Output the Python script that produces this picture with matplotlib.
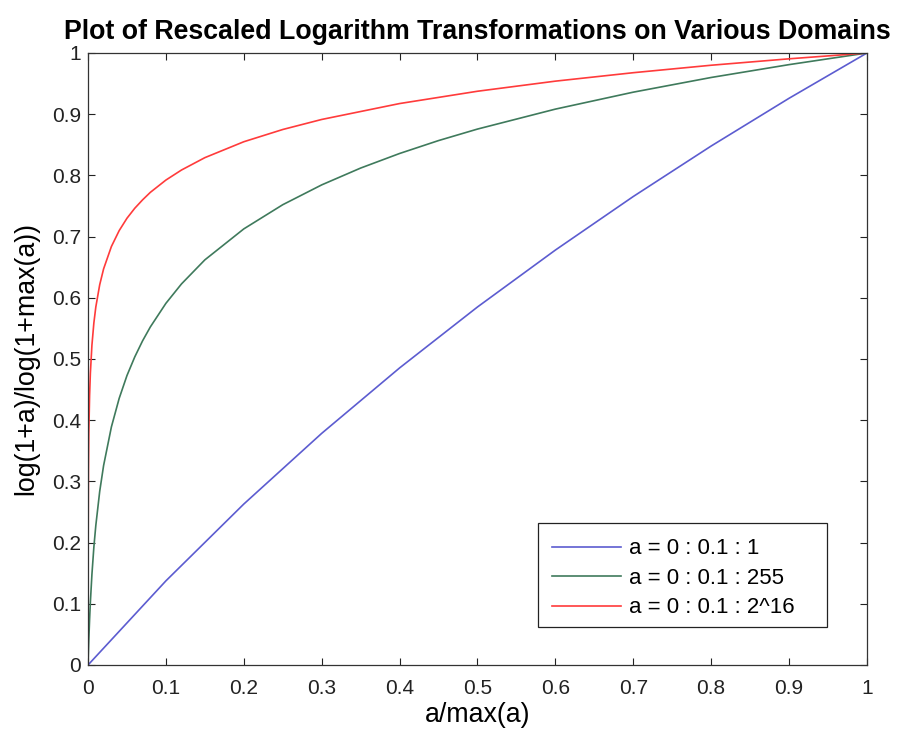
import matplotlib
matplotlib.use("Agg")
import matplotlib.pyplot as plt
from matplotlib.patches import Rectangle

plt.rcParams['font.family'] = ['Liberation Sans', 'DejaVu Sans']

# Series 1: a = 0:0.1:1 (11 samples)
x_blue = [0, 0.1, 0.2, 0.3, 0.4, 0.5, 0.6, 0.7, 0.8, 0.9, 1.0]
y_blue = [0, 0.1375, 0.263, 0.3785, 0.4854, 0.585, 0.678, 0.7655, 0.848, 0.926, 1.0]

# Series 2: a = 0:0.1:255
x_green = [0, 0.000392, 0.001, 0.002, 0.003, 0.005, 0.0075, 0.01, 0.015, 0.02, 0.03,
           0.04, 0.05, 0.06, 0.07, 0.08, 0.1, 0.12, 0.15, 0.2, 0.25, 0.3, 0.35,
           0.4, 0.45, 0.5, 0.6, 0.7, 0.8, 0.9, 1.0]
y_green = [0, 0.0172, 0.041, 0.0743, 0.1024, 0.148, 0.1928, 0.228, 0.2838, 0.326, 0.389,
           0.4357, 0.473, 0.5034, 0.5296, 0.5524, 0.591, 0.6227, 0.662, 0.7126, 0.7521, 0.7845, 0.812,
           0.8358, 0.8569, 0.8757, 0.9083, 0.936, 0.960, 0.981, 1.0]

# Series 3: a = 0:0.1:2^16
x_red = [0, 0.0000015, 0.00002, 0.00005, 0.0001, 0.0005, 0.001, 0.002, 0.003, 0.005, 0.0075,
         0.01, 0.015, 0.02, 0.03, 0.04, 0.05, 0.06, 0.07, 0.08, 0.1, 0.12, 0.15, 0.2,
         0.25, 0.3, 0.4, 0.5, 0.6, 0.7, 0.8, 0.9, 1.0]
y_red = [0, 0.0086, 0.0755, 0.131, 0.1823, 0.3173, 0.3785, 0.440, 0.4766, 0.5225, 0.559,
         0.585, 0.6214, 0.6473, 0.6838, 0.7098, 0.730, 0.7463, 0.760, 0.7723, 0.7924, 0.8088, 0.829, 0.855,
         0.875, 0.8914, 0.9174, 0.9375, 0.954, 0.9678, 0.980, 0.9905, 1.0]

labels = ['a = 0 : 0.1 : 1', 'a = 0 : 0.1 : 255', 'a = 0 : 0.1 : 2^16']
ticks = [0, 0.1, 0.2, 0.3, 0.4, 0.5, 0.6, 0.7, 0.8, 0.9, 1]
tick_labels = ['0', '0.1', '0.2', '0.3', '0.4', '0.5', '0.6', '0.7', '0.8', '0.9', '1']

fig = plt.figure(figsize=(9.01, 7.29), dpi=100)
ax = fig.add_axes([0.0977, 0.0878, 0.8645, 0.8395])

ax.plot(x_blue, y_blue, color='#5c5cd0', lw=1.2, label=labels[0])
ax.plot(x_green, y_green, color='#3f7a5c', lw=1.2, label=labels[1])
ax.plot(x_red, y_red, color='#ff3b3b', lw=1.2, label=labels[2])

ax.set_xlim(0, 1)
ax.set_ylim(0, 1)
ax.set_xticks(ticks)
ax.set_xticklabels(tick_labels)
ax.set_yticks(ticks)
ax.set_yticklabels(tick_labels)
ax.tick_params(direction='in', length=5, width=0.8, labelsize=15, top=True, right=True,
               labeltop=False, labelright=False, colors='#222222')
ax.tick_params(axis='x', pad=10)
ax.tick_params(axis='y', pad=5)
for s in ax.spines.values():
    s.set_color('#333333')
    s.set_linewidth(0.9)

ax.set_xlabel('a/max(a)', fontsize=19.3, labelpad=3)
ax.set_ylabel('log(1+a)/log(1+max(a))', fontsize=19.3, labelpad=9)
ax.set_title('Plot of Rescaled Logarithm Transformations on Various Domains',
             fontsize=19.3, fontweight='bold', pad=10)

# legend box (MATLAB-style, extra right margin)
ax.add_patch(Rectangle((0.5777, 0.0621), 0.371, 0.170, transform=ax.transAxes,
                       facecolor='white', edgecolor='#222222', lw=0.9, zorder=4))
leg = ax.legend(loc='upper left', bbox_to_anchor=(0.5956, 0.2067), fontsize=16,
                frameon=False, handlelength=3.1, borderpad=0, labelspacing=0.38,
                handletextpad=0.35, borderaxespad=0)
leg.set_zorder(5)

fig.savefig('out.png', dpi=100)
